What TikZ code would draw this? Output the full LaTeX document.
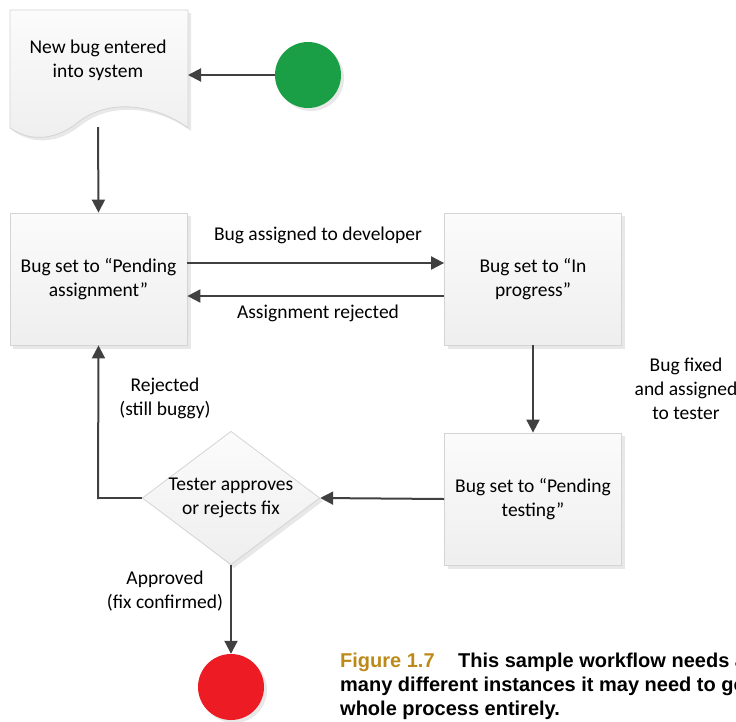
\documentclass[tikz,border=0pt]{standalone}
\usepackage{fontspec}
\setmainfont{Carlito}
\newfontfamily\capfont{Liberation Sans}
\usetikzlibrary{arrows.meta,shapes.geometric,calc}
\definecolor{edgegray}{HTML}{404040}
\definecolor{boxline}{HTML}{D4D4D4}
\definecolor{startgreen}{HTML}{1A9F46}
\definecolor{stopred}{HTML}{ED1C24}
\definecolor{capgold}{HTML}{BD8A1A}
\tikzset{
  txt/.style={font=\fontsize{19.5}{24}\selectfont},
  statebox/.style={txt, draw=boxline, line width=0.8pt, top color=gray!3, bottom color=gray!13,
    minimum width=177pt, minimum height=132pt, align=center, inner sep=0pt},
  boxshadow/.style={fill=gray!18, draw=none},
  flow/.style={draw=edgegray, line width=2pt, -{Triangle[length=13pt,width=13pt]}},
  flowline/.style={draw=edgegray, line width=2pt},
  lbl/.style={txt, align=center, inner sep=0pt},
  decision/.style={txt, diamond, aspect=1.33, draw=boxline, line width=0.8pt, top color=gray!3,
    bottom color=gray!13, minimum width=175pt, minimum height=132pt, inner sep=0pt,
    align=center},
  terminal/.style={circle, minimum size=66pt, inner sep=0pt, draw=none},
  caption/.style={anchor=base west, inner sep=0pt, font=\capfont\bfseries\fontsize{20}{24}\selectfont}
}
\begin{document}
\begin{tikzpicture}[x=1pt, y=-1pt]
\useasboundingbox (0,0) rectangle (736,721);

% document shape: new bug entered
\fill[gray!18] (13,13) -- (191,13) -- (191,131)
  .. controls (160,108) and (112,100) .. (80,126)
  .. controls (60,142) and (35,146) .. (13,131) -- cycle;
\path[draw=boxline, line width=0.8pt, top color=gray!3, bottom color=gray!13]
  (10,10) -- (188,10) -- (188,128)
  .. controls (157,105) and (109,97) .. (77,123)
  .. controls (57,139) and (32,143) .. (10,128) -- cycle;
\node[lbl] (newbug) at (98,60) {New bug entered\\into system};
\coordinate (newbugE) at (188,75);
\coordinate (newbugS) at (98,127);

% start and stop circles
\fill[gray!18] (311,78) circle (33);
\node[terminal, fill=startgreen] (start) at (308,75) {};
\fill[gray!18] (234,690) circle (33);
\node[terminal, fill=stopred] (stop) at (231,687) {};

% state boxes with shadows
\fill[boxshadow] (13,216) rectangle (191,349);
\node[statebox] (pending) at (98.5,279) {Bug set to “Pending\\assignment”};
\fill[boxshadow] (448,216) rectangle (625,349);
\node[statebox] (progress) at (533,279) {Bug set to “In\\progress”};
\fill[boxshadow] (448,436) rectangle (625,569);
\node[statebox] (testing) at (533,499) {Bug set to “Pending\\testing”};

% decision
\fill[gray!18] (234,436) -- (323,501) -- (234,568) -- (148,501) -- cycle;
\node[decision] (review) at (231,498) {Tester approves\\or rejects fix};

% connectors
\draw[flow] (start.west) -- (newbugE);
\draw[flow] (newbugS) -- (pending.north);
\draw[flow] (pending.east |- 0,263) -- (progress.west |- 0,263);
\draw[flow] (progress.west |- 0,296) -- (pending.east |- 0,296);
\draw[flow] (progress.south) -- (testing.north);
\draw[flow] (testing.west) -- (review.east);
\draw[flowline] (review.west) -- (98,498);
\draw[flow] (98,499) -- (pending.south);
\draw[flow] (review.south) -- (stop.north);

% connector labels
\node[lbl] (lblassign) at (318,235) {Bug assigned to developer};
\node[lbl] (lblreject) at (318,313) {Assignment rejected};
\node[lbl] (lblfixed) at (686,389) {Bug fixed\\and assigned\\to tester};
\node[lbl] (lblbuggy) at (165,398) {Rejected\\(still buggy)};
\node[lbl] (lblok) at (165,591) {Approved\\(fix confirmed)};

% caption
\node[caption, text=capgold] (capnum) at (340,667) {Figure 1.7};
\node[caption] (cap1) at (458,667) {This sample workflow needs a};
\node[caption] (cap2) at (340,691) {many different instances it may need to go};
\node[caption] (cap3) at (340,715) {whole process entirely.};
\end{tikzpicture}
\end{document}
